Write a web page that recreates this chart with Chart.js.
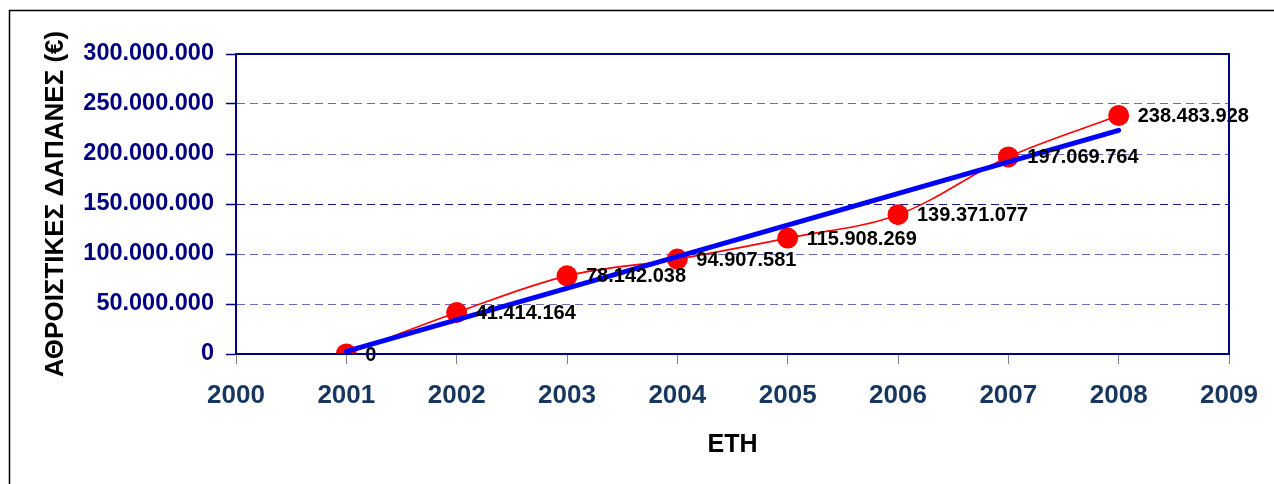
<!DOCTYPE html>
<html>
<head>
<meta charset="utf-8">
<script src="https://cdn.jsdelivr.net/npm/chart.js@4.4.1/dist/chart.umd.min.js"></script>
<style>
html,body{margin:0;padding:0;background:#ffffff;overflow:hidden}
#wrap{width:1274px;height:484px;position:relative}
</style>
</head>
<body>
<div id="wrap"><canvas id="c" width="1274" height="484"></canvas></div>
<script>
// ---- data ----
const years = [2001, 2002, 2003, 2004, 2005, 2006, 2007, 2008];
const cumulativeSpending = [0, 41414164, 78142038, 94907581, 115908269, 139371077, 197069764, 238483928];
const trendYears = [2001, 2008];
const trendValues = [2600000, 223700000];
const xRange = [2000, 2009];
const yRange = [0, 300000000];
const yStep = 50000000;
const yTitle = 'ΑΘΡΟΙΣΤΙΚΕΣ ΔΑΠΑΝΕΣ (€)';
const xTitle = 'ΕΤΗ';

function fmt(v) {
  return String(Math.round(v)).replace(/\B(?=(\d{3})+(?!\d))/g, '.');
}

const FONT = '"Liberation Sans", Arial, Helvetica, sans-serif';

const framePlugin = {
  id: 'frame',
  beforeDraw(chart) {
    const ctx = chart.ctx;
    ctx.save();
    ctx.fillStyle = '#ffffff';
    ctx.fillRect(0, 0, chart.width, chart.height);
    ctx.strokeStyle = '#000000';
    ctx.lineWidth = 1.5;
    ctx.beginPath();
    ctx.moveTo(9.5, chart.height + 5);
    ctx.lineTo(9.5, 10.5);
    ctx.lineTo(chart.width + 5, 10.5);
    ctx.stroke();
    ctx.restore();
  },
  afterDatasetsDraw(chart) {
    const ctx = chart.ctx;
    const meta = chart.getDatasetMeta(1);
    ctx.save();
    ctx.font = 'bold 20px ' + FONT;
    ctx.fillStyle = '#000000';
    ctx.textAlign = 'left';
    ctx.textBaseline = 'middle';
    meta.data.forEach((pt, i) => {
      ctx.fillText(fmt(cumulativeSpending[i]), pt.x + 19, pt.y + 1);
    });
    ctx.restore();
  },
  afterDraw(chart) {
    const a = chart.chartArea;
    const ctx = chart.ctx;
    ctx.save();
    ctx.strokeStyle = '#000080';
    ctx.lineWidth = 2;
    ctx.strokeRect(a.left, a.top, a.right - a.left, a.bottom - a.top);
    ctx.restore();
  }
};

new Chart(document.getElementById('c'), {
  type: 'line',
  data: {
    datasets: [
      {
        label: 'trend',
        data: trendYears.map((x, i) => ({x: x, y: trendValues[i]})),
        borderColor: '#0000FF',
        borderWidth: 5,
        pointRadius: 0,
        borderCapStyle: 'round',
        fill: false,
        order: 0
      },
      {
        label: 'spending',
        data: years.map((x, i) => ({x: x, y: cumulativeSpending[i]})),
        borderColor: '#FF0000',
        borderWidth: 1.6,
        backgroundColor: '#FF0000',
        pointBackgroundColor: '#FF0000',
        pointBorderColor: '#FF0000',
        pointBorderWidth: 0,
        pointRadius: 10.5,
        tension: 0.35,
        fill: false,
        order: 1
      }
    ]
  },
  options: {
    responsive: false,
    animation: false,
    devicePixelRatio: 1,
    layout: {padding: {top: 54, right: 45, left: 0, bottom: 0}},
    plugins: {legend: {display: false}, tooltip: {enabled: false}},
    scales: {
      x: {
        type: 'linear',
        min: xRange[0],
        max: xRange[1],
        afterFit(s) { s.height = 130; },
        ticks: {
          stepSize: 1,
          padding: 16,
          color: '#17375E',
          font: {family: FONT, size: 26, weight: 'bold'},
          callback: v => String(v),
          maxRotation: 0
        },
        grid: {
          drawOnChartArea: false,
          drawTicks: true,
          tickLength: 10,
          tickColor: '#808080',
          tickWidth: 1
        },
        border: {display: true, color: '#000080', width: 2},
        title: {
          display: true,
          text: xTitle,
          color: '#000000',
          font: {family: FONT, size: 25, weight: 'bold'},
          padding: {top: 0, bottom: 24}
        }
      },
      y: {
        type: 'linear',
        min: yRange[0],
        max: yRange[1],
        afterFit(s) { s.width = 236; },
        ticks: {
          stepSize: yStep,
          padding: 12,
          color: '#000080',
          font: {family: FONT, size: 23.5, weight: 'bold'},
          callback: v => fmt(v)
        },
        grid: {
          color: ctx => (ctx.tick && ctx.tick.value === 150000000) ? '#1a1a8c' : '#6a6ab8',
          lineWidth: 1,
          drawTicks: true,
          tickLength: 10,
          tickColor: '#000080',
          tickWidth: 1.5,
          tickBorderDash: []
        },
        border: {display: true, color: '#000080', width: 2, dash: [8, 5]},
        title: {
          display: true,
          text: yTitle,
          color: '#000000',
          font: {family: FONT, size: 26, weight: 'bold'},
          padding: {top: 40, bottom: 0}
        }
      }
    }
  },
  plugins: [framePlugin]
});
</script>
</body>
</html>
